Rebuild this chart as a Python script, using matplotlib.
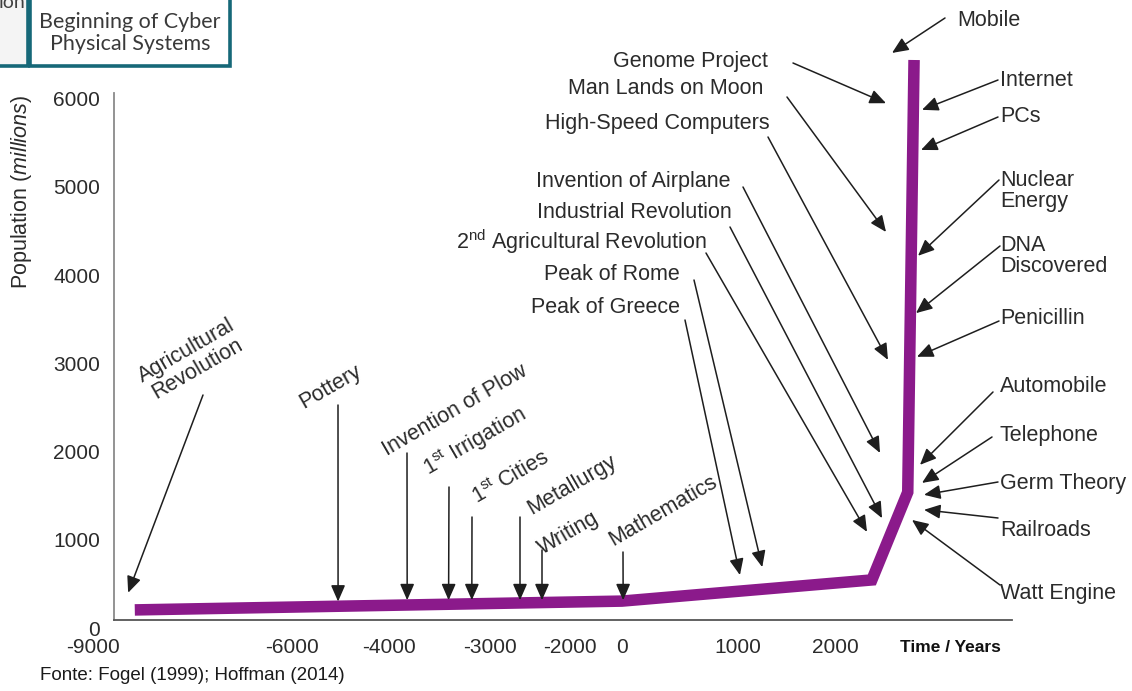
import matplotlib
matplotlib.use('Agg')
import matplotlib.pyplot as plt
import numpy as np
from matplotlib import font_manager
from matplotlib.patches import Rectangle

W, H = 1132, 691

# population curve (year, millions)
line_years = [-8370, 0, 2380, 2750, 2815]
line_pop = [205, 305, 545, 1540, 6440]

tick_years = [-9000, -6000, -4000, -3000, -2000, 0, 1000, 2000]
tick_labels = ['-9000', '-6000', '-4000', '-3000', '-2000', '0', '1000', '2000']
ytick_vals = [0, 1000, 2000, 3000, 4000, 5000, 6000]

# events under the curve (rotated labels)
bottom_events = ['Agricultural\nRevolution', 'Pottery', 'Invention of Plow',
                 '1$^{\\rm st}$ Irrigation', '1$^{\\rm st}$ Cities', 'Metallurgy',
                 'Writing', 'Mathematics']
bottom_years = [-8470, -5050, -3820, -3410, -3180, -2625, -2350, 10]
bottom_pop = [400, 300, 315, 315, 315, 315, 315, 315]

# events labelled on the left of the rise
left_events = ['Genome Project', 'Man Lands on Moon', 'High-Speed Computers',
               'Invention of Airplane', 'Industrial Revolution',
               '2$^{\\rm nd}$ Agricultural Revolution', 'Peak of Rome', 'Peak of Greece']
left_years = [2526, 2526, 2546, 2464, 2485, 2330, 1250, 1020]
left_pop = [5950, 4490, 3040, 1985, 1245, 1090, 690, 600]

# events labelled on the right of the rise
right_events = ['Mobile', 'Internet', 'PCs', 'Nuclear\nEnergy', 'DNA\nDiscovered',
                'Penicillin', 'Automobile', 'Telephone', 'Germ Theory', 'Railroads',
                'Watt Engine']
right_years = [2588, 2897, 2887, 2856, 2835, 2845, 2876, 2897, 2918, 2918, 2794]
right_pop = [6520, 5875, 5420, 4220, 3570, 3075, 1850, 1645, 1510, 1340, 1225]

# label placement in image pixels (x, y from top-left)
bottom_text = [(192, 360), (330, 387), (455, 410), (475, 441), (511, 477),
               (572, 485), (568, 533), (663, 511)]
bottom_tail = [(203, 395), (338, 405), (407, 453), (449, 487), (472, 517),
               (520, 517), (542, 550), (623, 552)]
left_text = [(768, 62), (763, 89), (770, 124), (731, 181), (732, 213),
             (707, 242), (680, 275), (680, 307)]
left_tail = [(793, 63), (787, 97), (768, 137), (743, 187), (730, 227),
             (706, 253), (694, 280), (685, 320)]
right_text = [(957, 20), (1000, 80), (1000, 117), (1000, 191), (1000, 256),
              (1000, 318), (1000, 387), (1000, 435), (1000, 483), (1000, 530),
              (1000, 593)]
right_tail = [(945, 18), (998, 80), (998, 117), (999, 180), (1000, 246),
              (999, 321), (993, 392), (992, 437), (998, 482), (998, 518),
              (1000, 585)]

plt.rcParams['font.family'] = ['Liberation Sans', 'DejaVu Sans']
plt.rcParams['mathtext.fontset'] = 'custom'
plt.rcParams['mathtext.rm'] = 'Liberation Sans'
plt.rcParams['mathtext.it'] = 'Liberation Sans:italic'

installed = {f.name for f in font_manager.fontManager.ttflist}
has_narrow = 'Liberation Sans Narrow' in installed

FS = 15.5
TXT = '#2b2b2b'
PURPLE = '#8b1a8b'
TEAL = '#166878'

# the time axis of the original is not linear: piecewise map year -> pixel
tick_px = [93, 292, 389, 490, 570, 622, 738, 835]
slope_l = (tick_px[1] - tick_px[0]) / (tick_years[1] - tick_years[0])
slope_r = (tick_px[-1] - tick_px[-2]) / (tick_years[-1] - tick_years[-2])


def year_to_px(v):
    v = np.asarray(v, dtype=float)
    p = np.interp(v, tick_years, tick_px)
    p = np.where(v < tick_years[0], tick_px[0] + (v - tick_years[0]) * slope_l, p)
    p = np.where(v > tick_years[-1], tick_px[-1] + (v - tick_years[-1]) * slope_r, p)
    return p


def px_to_year(p):
    p = np.asarray(p, dtype=float)
    v = np.interp(p, tick_px, tick_years)
    v = np.where(p < tick_px[0], tick_years[0] + (p - tick_px[0]) / slope_l, v)
    v = np.where(p > tick_px[-1], tick_years[-1] + (p - tick_px[-1]) / slope_r, v)
    return v


def fxy(x, y):
    return (x / W, 1 - y / H)


fig = plt.figure(figsize=(W / 100, H / 100), dpi=100)
# axes box starts at the -9000 label; the drawn left spine sits a little right of it
ax_left, ax_right, ax_bottom, ax_top = 93, 1012, 628, 19
spine_x = 114
ax = fig.add_axes([ax_left / W, 1 - ax_bottom / H,
                   (ax_right - ax_left) / W, (ax_bottom - ax_top) / H])
ax.patch.set_visible(False)

px_per_pop = 0.0882
ax.set_xscale('function', functions=(year_to_px, px_to_year))
ax.set_xticks(tick_years)
ax.set_xticklabels(tick_labels)
ax.set_yticks(ytick_vals)
ax.set_yticklabels([str(v) for v in ytick_vals])
ax.set_xlim(tick_years[0], float(px_to_year(ax_right)))
ax.set_ylim(0, (ax_bottom - ax_top) / px_per_pop)

ax.plot(line_years, line_pop, color=PURPLE, lw=8.3, solid_joinstyle='miter',
        solid_capstyle='butt', clip_on=False, zorder=3)

for s in ['top', 'right']:
    ax.spines[s].set_visible(False)
spine_year = float(px_to_year(spine_x))
ax.spines['left'].set_position(('data', spine_year))
ax.spines['left'].set_color('#8a8a8a')
ax.spines['left'].set_linewidth(1.3)
ax.spines['left'].set_bounds(91, 6066)
ax.spines['bottom'].set_position(('data', 91))
ax.spines['bottom'].set_color('#555555')
ax.spines['bottom'].set_linewidth(1.3)
ax.spines['bottom'].set_bounds(spine_year, float(px_to_year(ax_right)))

ax.tick_params(axis='x', length=0, pad=13, labelsize=15, labelcolor=TXT)
ax.tick_params(axis='y', length=0, pad=10, labelsize=15, labelcolor=TXT)
ax.set_ylabel('Population $\\mathit{(millions)}$', fontsize=FS, color=TXT)
ax.yaxis.set_label_coords((34 - ax_left) / (ax_right - ax_left),
                          (ax_bottom - 192) / (ax_bottom - ax_top))

arrow_kw = dict(arrowstyle='-|>,head_length=0.55,head_width=0.24', color='#1e1e1e',
                lw=1.1, mutation_scale=18, shrinkA=0, shrinkB=0)


def event_arrows(years, pops, tails):
    for yr, pp, (tx, ty) in zip(years, pops, tails):
        ax.annotate('', xy=(yr, pp), xycoords='data', xytext=fxy(tx, ty),
                    textcoords='figure fraction', arrowprops=arrow_kw,
                    annotation_clip=False)


event_arrows(bottom_years, bottom_pop, bottom_tail)
event_arrows(left_years, left_pop, left_tail)
event_arrows(right_years, right_pop, right_tail)

for lab, (x, y) in zip(bottom_events, bottom_text):
    fig.text(*fxy(x, y), lab, rotation=30, rotation_mode='anchor', ha='center',
             va='center', multialignment='center', linespacing=1.0,
             fontsize=FS, color=TXT)
for lab, (x, y) in zip(left_events, left_text):
    fig.text(*fxy(x, y), lab, ha='right', va='center', fontsize=FS, color=TXT)
for lab, (x, y) in zip(right_events, right_text):
    fig.text(*fxy(x, y), lab, ha='left', va='center', linespacing=1.0,
             fontsize=FS, color=TXT)

narrow = ['Liberation Sans Narrow', 'Liberation Sans']
fig.text(*fxy(950, 648), 'Time / Years', ha='center', va='center',
         fontsize=14 if has_narrow else 12.5, fontweight='bold', color='#111111',
         family=narrow)
fig.text(*fxy(40, 675), 'Fonte: Fogel (1999); Hoffman (2014)', ha='left', va='center',
         fontsize=16.5 if has_narrow else 13.5, color='#1a1a1a', family=narrow)

# framed boxes cut by the top edge
fig.add_artist(Rectangle(fxy(30, 66), 200 / W, 80 / H, transform=fig.transFigure,
                         facecolor='white', edgecolor=TEAL, lw=2.6, zorder=5))
fig.add_artist(Rectangle(fxy(-20, 66), 48 / W, 80 / H, transform=fig.transFigure,
                         facecolor='#f4f4f4', edgecolor=TEAL, lw=2.6, zorder=5))
fig.text(*fxy(130, 33), 'Beginning of Cyber\nPhysical Systems', ha='center',
         va='center', fontsize=15.5, color='#3a3a3a', linespacing=1.1,
         family=['Lato', 'DejaVu Sans'], zorder=6)
fig.text(*fxy(-1, 3), 'ion', ha='left', va='center', fontsize=14, color='#404040',
         family=['Lato', 'DejaVu Sans'], zorder=6)

fig.savefig('out.png', dpi=100, facecolor='white')
